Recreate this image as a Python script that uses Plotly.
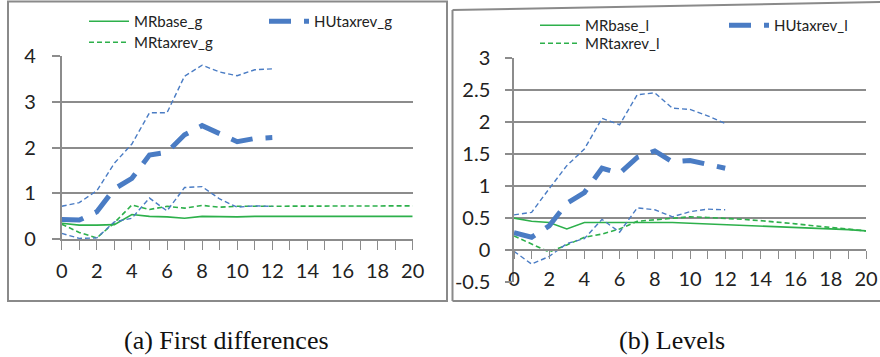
import plotly.graph_objects as go

# ---------------- data ----------------
periods = list(range(0, 21))
periods_hu = list(range(0, 13))

# (a) First differences
mrbase_g = [0.35, 0.31, 0.31, 0.32, 0.54, 0.50, 0.49, 0.46, 0.50, 0.49, 0.49,
            0.50, 0.50, 0.50, 0.50, 0.50, 0.50, 0.50, 0.50, 0.50, 0.50]
mrtaxrev_g = [0.33, 0.15, 0.03, 0.36, 0.75, 0.65, 0.72, 0.68, 0.74, 0.70, 0.72,
              0.72, 0.73, 0.73, 0.73, 0.73, 0.73, 0.73, 0.73, 0.73, 0.73]
hutaxrev_g = [0.43, 0.42, 0.60, 1.10, 1.33, 1.84, 1.90, 2.28, 2.48, 2.30, 2.13, 2.20, 2.22]
hutaxrev_g_up = [0.72, 0.80, 1.06, 1.66, 2.08, 2.76, 2.76, 3.56, 3.80, 3.65, 3.57, 3.70, 3.72]
hutaxrev_g_lo = [0.13, 0.02, 0.03, 0.38, 0.46, 0.90, 0.62, 1.13, 1.15, 0.88, 0.70, 0.73, 0.72]

# (b) Levels
mrbase_l = [0.50, 0.45, 0.43, 0.33, 0.43, 0.43, 0.44, 0.44, 0.44, 0.43, 0.42,
            0.41, 0.40, 0.39, 0.38, 0.37, 0.36, 0.34, 0.33, 0.32, 0.30]
mrtaxrev_l = [0.22, 0.10, -0.03, 0.08, 0.20, 0.25, 0.33, 0.45, 0.47, 0.50, 0.52,
              0.51, 0.50, 0.48, 0.46, 0.44, 0.41, 0.38, 0.35, 0.32, 0.30]
hutaxrev_l = [0.27, 0.20, 0.38, 0.73, 0.90, 1.28, 1.20, 1.45, 1.55, 1.38, 1.40, 1.35, 1.28]
hutaxrev_l_up = [0.55, 0.59, 0.96, 1.32, 1.58, 2.06, 1.96, 2.43, 2.46, 2.22, 2.20, 2.10, 1.98]
hutaxrev_l_lo = [-0.02, -0.22, -0.10, 0.10, 0.18, 0.48, 0.28, 0.66, 0.63, 0.52, 0.60, 0.64, 0.63]

yticks_l = [-0.5, 0, 0.5, 1, 1.5, 2, 2.5, 3]
yticks_l_text = ["-0.5", "0", "0.5", "1", "1.5", "2", "2.5", "3"]

captions = ["(a) First differences", "(b) Levels"]

# ---------------- style ----------------
W, H = 880, 357
GREEN = "#2DB04B"
BLUE = "#4A7CC4"
GRID = "#8C8C8C"
BOX = "#8A8A8A"
FONT = "Lato"
TXT = "#222222"


def px(x):
    return x / W


def py(y):
    return 1 - y / H


fig = go.Figure()

solid_g = dict(color=GREEN, width=1.6)
dash_g = dict(color=GREEN, width=1.6, dash="5px,3px")
band = dict(color=BLUE, width=1.4, dash="5px,3px")
thick = dict(color=BLUE, width=5, dash="22px,13px")

# left panel traces
fig.add_trace(go.Scatter(x=periods, y=mrbase_g, name="MRbase_g", mode="lines",
                         line=solid_g, legend="legend", xaxis="x", yaxis="y"))
fig.add_trace(go.Scatter(x=periods, y=mrtaxrev_g, name="MRtaxrev_g", mode="lines",
                         line=dash_g, legend="legend3", xaxis="x", yaxis="y"))
fig.add_trace(go.Scatter(x=periods_hu, y=hutaxrev_g_up, mode="lines", showlegend=False,
                         line=band, xaxis="x", yaxis="y"))
fig.add_trace(go.Scatter(x=periods_hu, y=hutaxrev_g_lo, mode="lines", showlegend=False,
                         line=band, xaxis="x", yaxis="y"))
fig.add_trace(go.Scatter(x=periods_hu, y=hutaxrev_g, name="HUtaxrev_g", mode="lines",
                         line=thick, legend="legend2", xaxis="x", yaxis="y"))

# right panel traces
fig.add_trace(go.Scatter(x=periods, y=mrbase_l, name="MRbase_l", mode="lines",
                         line=solid_g, legend="legend4", xaxis="x2", yaxis="y2"))
fig.add_trace(go.Scatter(x=periods, y=mrtaxrev_l, name="MRtaxrev_l", mode="lines",
                         line=dash_g, legend="legend6", xaxis="x2", yaxis="y2"))
fig.add_trace(go.Scatter(x=periods_hu, y=hutaxrev_l_up, mode="lines", showlegend=False,
                         line=band, xaxis="x2", yaxis="y2"))
fig.add_trace(go.Scatter(x=periods_hu, y=hutaxrev_l_lo, mode="lines", showlegend=False,
                         line=band, xaxis="x2", yaxis="y2"))
fig.add_trace(go.Scatter(x=periods_hu, y=hutaxrev_l, name="HUtaxrev_l", mode="lines",
                         line=thick, legend="legend5", xaxis="x2", yaxis="y2"))
# carrier for the zero-crossing axis of the right panel
fig.add_trace(go.Scatter(x=[], y=[], showlegend=False, xaxis="x3", yaxis="y2", hoverinfo="skip"))

# domains (pixel based)
xl = [px(61.7), px(412.7)]
yl = [py(239.3), py(56)]
xr = [px(514), px(866)]
yr = [py(282), py(58.3)]
zero_pos = yr[0] + (0 - (-0.5)) / 3.5 * (yr[1] - yr[0])

tickfont = dict(family=FONT, size=20, color=TXT)
legfont = dict(family=FONT, size=15, color=TXT)


def leg(xp, ytop):
    return dict(x=px(xp), y=py(ytop), xanchor="left", yanchor="top", orientation="v",
                bgcolor="rgba(0,0,0,0)", font=legfont, itemwidth=40)


fig.update_layout(
    template="none",
    width=W, height=H, autosize=False,
    margin=dict(l=0, r=0, t=0, b=0, pad=0, autoexpand=False),
    paper_bgcolor="white", plot_bgcolor="white",
    font=dict(family=FONT, color=TXT),
    xaxis=dict(domain=xl, range=[0, 20], tick0=0, dtick=2, anchor="y", automargin=False,
               showgrid=False, zeroline=False, showline=True, linecolor=GRID, linewidth=1.5,
               ticks="outside", ticklen=9, tickwidth=1.2, tickcolor=GRID,
               minor=dict(dtick=1, ticks="outside", ticklen=9, tickwidth=1.2, tickcolor=GRID),
               tickfont=tickfont, ticklabelstandoff=4),
    yaxis=dict(domain=yl, range=[0, 4], tick0=0, dtick=1, anchor="x", automargin=False,
               showgrid=True, gridcolor=GRID, gridwidth=2, zeroline=False,
               showline=True, linecolor=GRID, linewidth=1.5,
               ticks="outside", ticklen=8, tickwidth=1.5, tickcolor=GRID,
               tickfont=tickfont, ticklabelstandoff=12),
    xaxis2=dict(domain=xr, range=[0, 20], tick0=0, dtick=2, anchor="y2", automargin=False,
                showgrid=False, zeroline=False, showline=False, ticks="",
                tickfont=tickfont, ticklabelstandoff=-17),
    xaxis3=dict(overlaying="x2", range=[0, 20], anchor="free", position=zero_pos,
                automargin=False,
                showgrid=False, zeroline=False, showline=True, linecolor=GRID, linewidth=1.5,
                ticks="outside", ticklen=8, tickwidth=1.2, tickcolor=GRID, dtick=1,
                showticklabels=False),
    yaxis2=dict(domain=yr, range=[-0.5, 3], tickvals=yticks_l, ticktext=yticks_l_text,
                anchor="x2", automargin=False,
                showgrid=True, gridcolor=GRID, gridwidth=2, zeroline=False,
                showline=True, linecolor=GRID, linewidth=1.5,
                ticks="outside", ticklen=7, tickwidth=1.5, tickcolor=GRID,
                tickfont=tickfont, ticklabelstandoff=11),
    legend=leg(84, 5),
    legend2=leg(264, 5),
    legend3=leg(84, 26),
    legend4=leg(535, 9),
    legend5=leg(724, 9),
    legend6=leg(535, 27),
    showlegend=True,
)

# panel frames
fig.add_shape(type="rect", xref="paper", yref="paper",
              x0=px(8), x1=px(447), y0=py(301), y1=py(1.5),
              line=dict(color=BOX, width=2), fillcolor="rgba(0,0,0,0)", layer="below")
frame_r = [((452.5, 10), (880, 2)), ((452.5, 10), (452.5, 301)), ((452.5, 301), (880, 301))]
for (ax0, ay0), (ax1, ay1) in frame_r:
    fig.add_shape(type="line", xref="paper", yref="paper",
                  x0=px(ax0), y0=py(ay0), x1=px(ax1), y1=py(ay1),
                  line=dict(color=BOX, width=2), layer="below")

# captions
for cx, txt in zip([227, 672], captions):
    fig.add_annotation(x=px(cx), y=py(340), xref="paper", yref="paper", text=txt,
                       showarrow=False, xanchor="center", yanchor="middle",
                       font=dict(family="Liberation Serif", size=26, color="#111111"))

fig.write_html("out.html", config={"displayModeBar": False},
               post_script="document.body.style.margin='0px';")
